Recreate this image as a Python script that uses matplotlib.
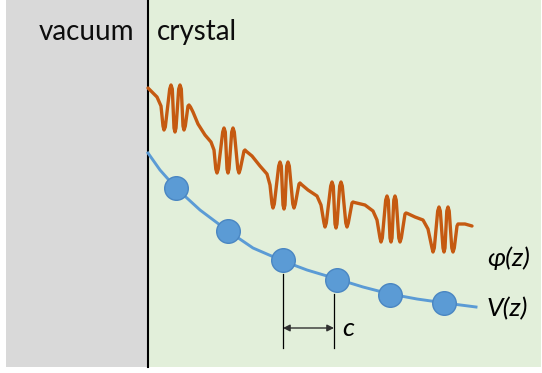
import numpy as np
import matplotlib
matplotlib.use("Agg")
import matplotlib.pyplot as plt

# schematic coordinates (x to the right, y downward as in the picture)
# atom positions along z and the potential at each atom
z_atoms = [176, 228, 283, 337, 390, 444]
v_atoms = [188, 231, 260, 280, 295, 303]

# potential V(z)
z_pot = [148, 160, 176, 200, 228, 253, 283, 307, 337, 363, 390, 417, 445, 476]
v_pot = [153, 170, 188, 210, 231, 248, 261, 270, 279, 287, 294, 299, 303, 307]

# wave function phi(z) (one row per wave packet)
z_phi = [148, 157, 161, 163, 164, 165.3, 169.7, 171, 172.3, 174, 175, 176, 178.7, 180, 181.3,
         183, 184, 185.3, 188, 189, 190.5, 193, 198, 205, 211, 214,
         215.8, 217, 218.3, 222.7, 224, 225.3, 227, 228, 229, 231.7, 233, 234.3,
         237.8, 239, 240.3, 244, 245, 246.5, 252, 260, 267, 270,
         272, 273, 274.3, 278.7, 280, 281.3, 283, 284, 285, 286.7, 288, 289.3,
         292.8, 294, 295.3, 299, 300, 301.5, 308, 317, 321,
         324, 325, 326.3, 330.7, 332, 333.3, 335, 336, 337, 339.7, 341, 342.3,
         345.8, 347, 348.3, 352, 353, 354.5, 365, 373, 377,
         380, 381, 382.3, 385.7, 387, 388.3, 390, 391, 392, 393.8, 395, 396.2,
         398.8, 400, 401.3, 405, 406, 407.5, 415, 423, 428,
         432, 433, 434.3, 437.7, 439, 440.3, 443, 444, 445, 446.8, 448, 449.2,
         451.8, 453, 454.3, 457, 458, 465, 472]
v_phi = [88, 97, 106, 126, 130, 127, 89, 85, 89, 128, 132, 128, 89, 85, 89,
         126, 130, 126, 106, 105, 107, 112, 124, 135, 142, 150,
         169, 173, 169, 132, 128, 132, 169, 173, 169, 132, 128, 132,
         169, 173, 169, 151, 150, 151.5, 156, 166, 174, 185,
         204, 208, 204, 166, 162, 166, 205, 209, 205, 166, 162, 166,
         204, 208, 204, 184, 183, 184.5, 190, 196, 205,
         223, 227, 223, 186, 182, 186, 224, 228, 224, 186, 182, 186,
         223, 227, 223, 203, 202, 202.5, 205, 211, 220,
         238, 242, 238, 200, 196, 200, 238, 242, 238, 200, 196, 200,
         238, 242, 238, 214, 213, 213.5, 217, 220, 229,
         248, 252, 248, 211, 207, 211, 248, 252, 248, 211, 207, 211,
         248, 252, 248, 226, 224, 224, 226]

fig = plt.figure(figsize=(5.42, 3.73), dpi=100)
ax = fig.add_axes([0, 0, 1, 1])
ax.set_xlim(0, 542)
ax.set_ylim(373, 0)
ax.axis('off')

#regions
ax.fill_between([6, 148], 0, 367, color='#D9D9D9', lw=0)
ax.fill_between([148, 541], 0, 367, color='#E2EFDA', lw=0)
ax.plot([148, 148], [0, 367], color='black', lw=1.5)

fam = ['Lato', 'DejaVu Sans']
ax.text(134, 40, 'vacuum', ha='right', va='baseline', fontsize=20, family=fam, color='#0d0d0d')
ax.text(157, 40, 'crystal', ha='left', va='baseline', fontsize=20, family=fam, color='#0d0d0d')

# curves
ax.plot(z_phi, v_phi, color='#C55A11', lw=2.4, solid_joinstyle='round', solid_capstyle='round')
ax.plot(z_pot, v_pot, color='#5B9BD5', lw=2.1)
ax.plot(z_atoms, v_atoms, 'o', ms=17, color='#5B9BD5', mec='#4A86C2', mew=1)

ax.text(487, 258, 'φ(z)', ha='left', va='center', fontsize=19, style='italic', family=fam)
ax.text(487, 309, 'V(z)', ha='left', va='center', fontsize=19, style='italic', family=fam)

# lattice constant marker
z1, z2 = z_atoms[2], z_atoms[3] - 3
ax.plot([z1, z1], [v_atoms[2] + 14, 348], color='black', lw=0.9)
ax.plot([z2, z2], [v_atoms[3] + 14, 348], color='black', lw=0.9)
ax.annotate('', xy=(z2, 328), xytext=(z1, 328),
            arrowprops=dict(arrowstyle='<|-|>', color='#303030', lw=1, mutation_scale=10,
                            shrinkA=0, shrinkB=0))
ax.text(342, 329, 'c', ha='left', va='center', fontsize=19, style='italic', family=fam)

fig.savefig('out.png', dpi=100)
